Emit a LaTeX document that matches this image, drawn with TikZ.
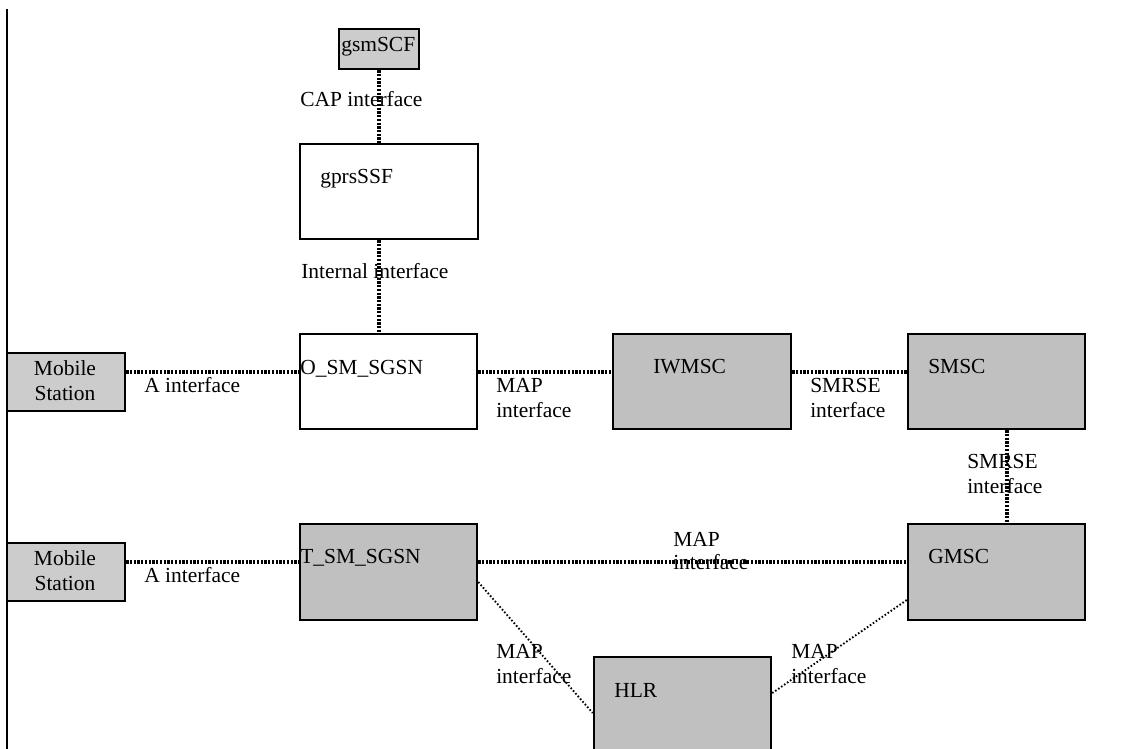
\documentclass[tikz,border=0pt]{standalone}
\usepackage{fontspec}
\setmainfont{Liberation Serif}
\definecolor{boxgray}{HTML}{C0C0C0}
\definecolor{msgray}{HTML}{CCCCCC}
\begin{document}
\begin{tikzpicture}[x=0.75pt,y=-0.75pt,
  box/.style={draw, line width=1.9pt, fill=boxgray, inner sep=0pt},
  wbox/.style={box, fill=white},
  lbox/.style={box, fill=msgray},
  lbl/.style={anchor=base west, inner sep=0pt, font=\fontsize{16.1pt}{18.75pt}\selectfont},
  clbl/.style={lbl, anchor=base},
  link/.style={line width=2.3pt, dash pattern=on 1.7pt off 1.1pt},
  dlink/.style={line width=1.4pt, dash pattern=on 1.2pt off 1.5pt}]
\clip (0,0) rectangle (1132,749);
\fill[white] (0,0) rectangle (1132,749);

% reference coordinates
\coordinate (row1) at (0,372);
\coordinate (row2) at (0,562);
\coordinate (col0) at (379,0);
\coordinate (col1) at (1007,0);
\coordinate (ltop) at (7,9);
\coordinate (lbot) at (7,749);

% left border line
\draw[line width=1.9pt] (ltop) -- (lbot);

% boxes
\node[lbox, minimum width=60pt, minimum height=30pt] (scf) at (379,49) {};
\node[wbox, minimum width=133.5pt, minimum height=71.25pt] (ssf) at (389,191.5) {};
\node[wbox, minimum width=132.75pt, minimum height=71.25pt] (osm) at (388.5,381.5) {};
\node[box, minimum width=133.5pt, minimum height=71.25pt] (iwmsc) at (702,381.5) {};
\node[box, minimum width=132.75pt, minimum height=71.25pt] (smsc) at (996.5,381.5) {};
\node[lbox, minimum width=88.5pt, minimum height=43.5pt] (ms1) at (66,382) {};
\node[lbox, minimum width=88.5pt, minimum height=43.5pt] (ms2) at (66,572) {};
\node[box, minimum width=132.75pt, minimum height=72pt] (tsm) at (388.5,572) {};
\node[box, minimum width=132.75pt, minimum height=72pt] (gmsc) at (996.5,572) {};
\node[box, minimum width=132.75pt, minimum height=107.25pt] (hlr) at (682.5,728.5) {};

% connectors
\draw[link] (scf.south) -- (col0 |- ssf.north);
\draw[link] (col0 |- ssf.south) -- (col0 |- osm.north);
\draw[link] (ms1.east |- row1) -- (osm.west |- row1);
\draw[link] (osm.east |- row1) -- (iwmsc.west |- row1);
\draw[link] (iwmsc.east |- row1) -- (smsc.west |- row1);
\draw[link] (col1 |- smsc.south) -- (col1 |- gmsc.north);
\draw[link] (ms2.east |- row2) -- (tsm.west |- row2);
\draw[link] (tsm.east |- row2) -- (gmsc.west |- row2);
\draw[dlink] ([yshift=-7.5pt]tsm.east) -- ([yshift=11.6pt]hlr.west);
\draw[dlink] ([yshift=-21pt]gmsc.west) -- ([yshift=26.6pt]hlr.east);

% labels
\node[lbl] (tscf) at (341,52) {gsmSCF};
\node[lbl] (tcap) at (300,107) {CAP interface};
\node[lbl] (tssf) at (320,183) {gprsSSF};
\node[lbl] (tint) at (301,278) {Internal interface};
\node[clbl] (tms1a) at (65,375) {Mobile};
\node[clbl] (tms1b) at (65,400) {Station};
\node[lbl] (ta1) at (144,392) {A interface};
\node[lbl] (tosm) at (300,374) {O\_SM\_SGSN};
\node[lbl] (tm1a) at (496,392) {MAP};
\node[lbl] (tm1b) at (496,417) {interface};
\node[lbl] (tiw) at (653,373) {IWMSC};
\node[lbl] (ts1a) at (810,392) {SMRSE};
\node[lbl] (ts1b) at (810,417) {interface};
\node[lbl] (tsmsc) at (928,373) {SMSC};
\node[lbl] (ts2a) at (967,468) {SMRSE};
\node[lbl] (ts2b) at (967,493) {interface};
\node[lbl] (tgmsc) at (928,563) {GMSC};
\node[clbl] (tms2a) at (65,565) {Mobile};
\node[clbl] (tms2b) at (65,590) {Station};
\node[lbl] (ta2) at (144,582) {A interface};
\node[lbl] (ttsm) at (300,563) {T\_SM\_SGSN};
\node[lbl] (tm2a) at (673,546) {MAP};
\node[lbl] (tm2b) at (673,569) {interface};
\node[lbl] (tm3a) at (496,658) {MAP};
\node[lbl] (tm3b) at (496,683) {interface};
\node[lbl] (thlr) at (614,697) {HLR};
\node[lbl] (tm4a) at (791,658) {MAP};
\node[lbl] (tm4b) at (791,683) {interface};
\end{tikzpicture}
\end{document}
